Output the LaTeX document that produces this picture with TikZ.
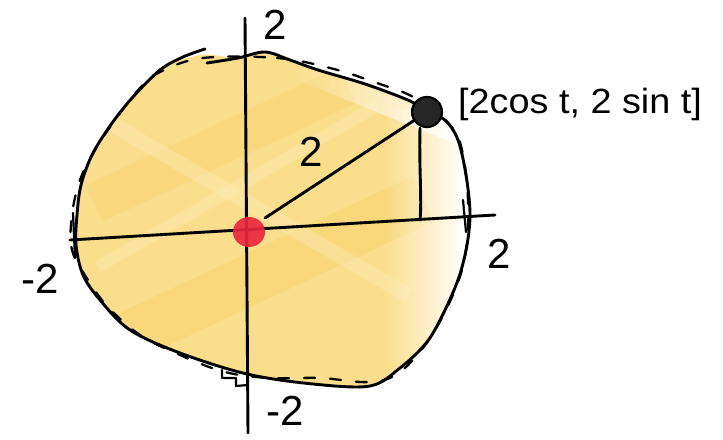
\documentclass[tikz,border=0pt]{standalone}
\usepackage{fontspec}
\usetikzlibrary{fadings}
\setmainfont{Liberation Sans}
\definecolor{Y}{RGB}{251,222,140}
\definecolor{Yd}{RGB}{248,206,95}
\definecolor{Yl}{RGB}{253,236,190}
\definecolor{dotred}{RGB}{234,38,62}
\tikzfading[name=fadeR, left color=transparent!100, right color=transparent!0]
\tikzset{
  ink/.style={line width=2.9bp, line cap=round, line join=round, black},
  dashink/.style={line width=2.3bp, line cap=round, black, dash pattern=on 11bp off 15bp},
  lbl/.style={font=\fontsize{42bp}{46bp}\selectfont, inner sep=0pt},
}
\begin{document}
\begin{tikzpicture}[x=1bp,y=-1bp]
\useasboundingbox (0,0) rectangle (723,440);
% yellow fill
\begin{scope}
\clip plot[smooth cycle, tension=0.6] coordinates {(238,58) (265,52) (318,70) (365,84) (410,101) (445,120) (458,140) (466,175) (470,213) (467,245) (459,277) (445,310) (427,342) (400,368) (370,386) (313,384) (247,374) (180,353) (130,330) (100,300) (83,275) (76,245) (77,215) (81,185) (92,155) (110,126) (132,98) (160,70) (200,55)};
\fill[Y] (0,0) rectangle (723,440);
\fill[Yd, opacity=.35, rotate around={25:(250,230)}] (80,250) rectangle (420,300);
\fill[Yd, opacity=.3, rotate around={25:(250,230)}] (120,120) rectangle (400,160);
\fill[Yl, opacity=.35, rotate around={-30:(250,230)}] (60,200) rectangle (420,215);
\fill[Yl, opacity=.35, rotate around={30:(250,230)}] (100,180) rectangle (420,192);
\fill[white, path fading=fadeR, rotate around={-22:(380,95)}] (290,40) rectangle (470,112);
\fill[white, path fading=fadeR] (385,110) rectangle (465,400);
\fill[white] (460,100) rectangle (480,400);
\end{scope}
% dashed circle
\draw[dashink] plot[smooth cycle, tension=0.6] coordinates {(203,58) (277,58) (330,68) (377,83) (415,98) (450,125) (462,150) (468,200) (466,250) (455,290) (430,338) (400,372) (370,382) (320,378) (270,378) (225,372) (180,355) (140,335) (108,307) (88,280) (72,250) (72,215) (80,180) (95,150) (115,120) (140,88) (160,72)};
% solid circle
\draw[ink] plot[smooth, tension=0.55] coordinates {(207,63) (238,58) (265,52) (290,60) (318,70) (365,84) (410,101) (427,112) (445,120) (458,140) (466,175) (470,213) (467,245) (459,277) (445,310) (427,342) (400,368) (370,386) (313,384) (247,374) (180,353) (130,330) (100,300) (83,275) (76,245) (77,215) (81,185) (92,155) (110,126) (132,98) (160,70) (183,57) (205,49)};
% axes
\coordinate (xl) at (70,240);
\coordinate (xr) at (495,215);
\coordinate (yt) at (245,18);
\coordinate (yb) at (248,433);
\draw[ink] (xl) -- (xr);
\draw[ink] (yt) -- (yb);
% tick marks
\draw[ink, line width=2.2bp] (73,213) -- (75,258);
\draw[ink, line width=2.2bp] (463,200) -- (466,232);
\draw[ink, line width=2.2bp] (222,370) -- (222,378) -- (236,378) -- (236,386) -- (248,385);
% point
\node[circle, draw, line width=2.2bp, fill=black!85, minimum size=30bp, inner sep=0pt] (P) at (427,112) {};
\coordinate (O) at (265,218);
\coordinate (F) at (420,220);
\draw[ink] (P) -- (O);
\draw[ink] (420,128) .. controls (419,170) and (422,200) .. (F);
% origin dot
\fill[dotred, opacity=.92] (249,232) ellipse [x radius=16, y radius=15];
% labels
\node[lbl] (t2) at (275,25) {2};
\node[lbl] (r2) at (499,254) {2};
\node[lbl] (l2) at (40,279) {-2};
\node[lbl] (b2) at (285,411) {-2};
\node[lbl] (rad) at (311,152) {2};
\node[font=\fontsize{35bp}{38bp}\selectfont, inner sep=0pt, anchor=west] (coord) at (458,104) {\scalebox{1.08}[1]{[2cos t, 2 sin t]}};
\end{tikzpicture}
\end{document}
